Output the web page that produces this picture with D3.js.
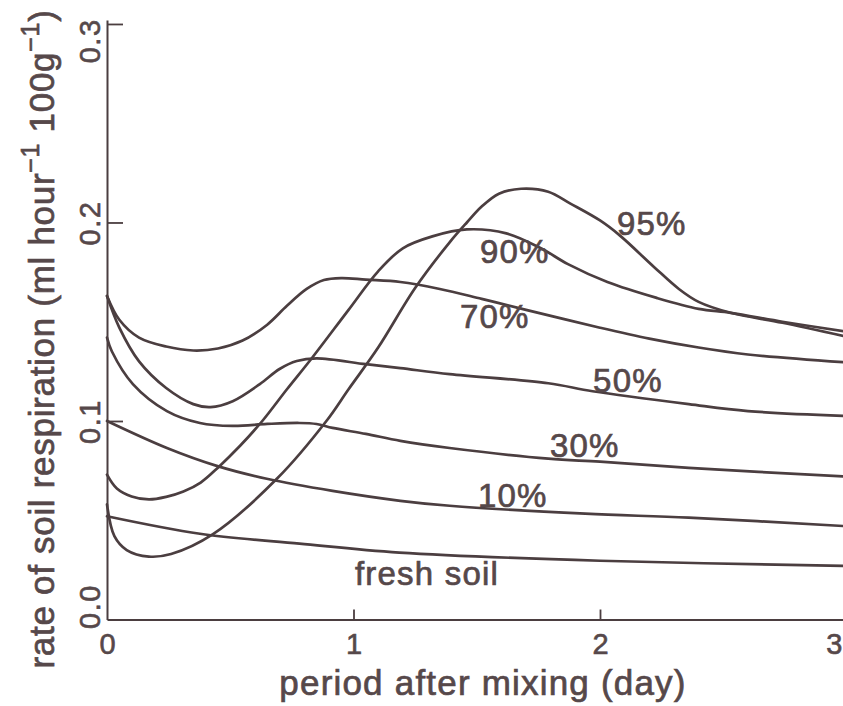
<!DOCTYPE html>
<html><head><meta charset="utf-8">
<script src="https://cdn.jsdelivr.net/npm/d3@7"></script>
<style>html,body{margin:0;padding:0;background:#fff;overflow:hidden}</style>
</head><body><svg id="c" width="843" height="706"></svg>
<script>
// ---- data ----
const seriesNames = ["95%", "90%", "70%", "50%", "30%", "10%", "fresh soil"];

const days95 = [0, 0.03, 0.08, 0.17, 0.26, 0.43, 0.69, 0.89, 0.98, 1.10, 1.25, 1.39, 1.46, 1.52, 1.59, 1.68, 1.79, 1.88, 2.0, 2.08, 2.22, 2.32, 2.4, 2.53, 2.74, 3.0];
const rate95 = [0.058, 0.042, 0.035, 0.0317, 0.033, 0.043, 0.071, 0.100, 0.116, 0.137, 0.167, 0.190, 0.200, 0.208, 0.2145, 0.217, 0.2155, 0.2095, 0.201, 0.1935, 0.1775, 0.1665, 0.160, 0.1545, 0.1495, 0.1425];

const days90 = [0, 0.04, 0.10, 0.17, 0.24, 0.31, 0.38, 0.45, 0.54, 0.63, 0.73, 0.83, 0.98, 1.10, 1.20, 1.32, 1.46, 1.62, 1.76, 1.87, 2.03, 2.23, 2.4, 2.53, 2.74, 3.0];
const rate90 = [0.073, 0.066, 0.062, 0.0605, 0.0618, 0.0645, 0.069, 0.0765, 0.0875, 0.100, 0.116, 0.1315, 0.156, 0.1754, 0.187, 0.193, 0.1965, 0.1945, 0.187, 0.179, 0.170, 0.162, 0.1565, 0.1545, 0.150, 0.145];

const days70 = [0, 0.05, 0.13, 0.24, 0.35, 0.45, 0.55, 0.65, 0.73, 0.81, 0.88, 0.95, 1.05, 1.19, 1.35, 1.52, 1.7, 2.0, 2.2, 2.4, 2.6, 3.0];
const rate70 = [0.163, 0.151, 0.142, 0.1375, 0.1355, 0.1365, 0.1405, 0.1485, 0.158, 0.1665, 0.171, 0.172, 0.1712, 0.170, 0.1665, 0.1615, 0.156, 0.147, 0.1415, 0.137, 0.1335, 0.1295];

const days50 = [0, 0.05, 0.13, 0.24, 0.35, 0.42, 0.51, 0.62, 0.70, 0.77, 0.85, 1.05, 1.19, 1.39, 1.79, 1.97, 2.36, 2.6, 3.0];
const rate50 = [0.163, 0.147, 0.130, 0.1166, 0.1085, 0.107, 0.110, 0.1186, 0.1262, 0.1302, 0.1315, 0.1286, 0.1266, 0.1236, 0.119, 0.115, 0.1085, 0.105, 0.1025];

const days30 = [0, 0.02, 0.105, 0.243, 0.377, 0.51, 0.65, 0.78, 0.85, 0.915, 1.05, 1.19, 1.39, 1.79, 2.0, 2.36, 3.0];
const rate30 = [0.142, 0.135, 0.1186, 0.105, 0.099, 0.0975, 0.0985, 0.099, 0.0985, 0.0965, 0.0935, 0.090, 0.0864, 0.081, 0.0795, 0.0764, 0.072];

const days10 = [0, 0.243, 0.445, 0.648, 0.915, 1.19, 1.39, 1.94, 2.36, 3.0];
const rate10 = [0.100, 0.0864, 0.0774, 0.0709, 0.0648, 0.0598, 0.0573, 0.0533, 0.0513, 0.047];

const daysFresh = [0, 0.377, 0.781, 1.186, 2.0, 3.0];
const rateFresh = [0.052, 0.0432, 0.0382, 0.0337, 0.0296, 0.027];

const xTickValues = [0, 1, 2, 3];
const yTickValues = [0, 0.1, 0.2, 0.3];
const xTitle = "period after mixing (day)";
const yTitleMain = "rate of soil respiration (ml hour";
const yTitleMid = " 100g";

// label anchors (in data units: day, rate)
const labelDay  = [2.069, 1.513, 1.432, 1.972, 1.797, 1.505, 1.006];
const labelRate = [0.1937, 0.1796, 0.1469, 0.1146, 0.0819, 0.0567, 0.0174];

// ---- chart ----
const ink = "#4b3e40";
const textInk = "#56484a";
const font = "'Liberation Sans', Arial, Helvetica, sans-serif";

const svg = d3.select("#c");
const x = d3.scaleLinear().domain([0, 3]).range([107, 846.5]);
const y = d3.scaleLinear().domain([0, 0.302]).range([619.5, 20]);

const allDays = [days95, days90, days70, days50, days30, days10, daysFresh];
const allRates = [rate95, rate90, rate70, rate50, rate30, rate10, rateFresh];
const series = seriesNames.map((name, i) => ({
  name,
  points: allDays[i].map((d, j) => [d, allRates[i][j]])
}));

const line = d3.line().x(d => x(d[0])).y(d => y(d[1])).curve(d3.curveCatmullRom.alpha(0.5));

svg.append("g").selectAll("path").data(series).join("path")
  .attr("d", d => line(d.points))
  .attr("fill", "none")
  .attr("stroke", ink)
  .attr("stroke-width", 2.7)
  .attr("stroke-linejoin", "round")
  .attr("stroke-linecap", "round");

// axes
const xAxis = d3.axisBottom(x).tickValues(xTickValues).tickFormat(d3.format("d"))
  .tickSizeInner(-10).tickSizeOuter(0).tickPadding(14);
const gx = svg.append("g").attr("transform", `translate(0,${y(0)})`).call(xAxis);
gx.select(".domain").attr("stroke", ink).attr("stroke-width", 2);
gx.selectAll(".tick line").attr("stroke", ink).attr("stroke-width", 1.8)
  .attr("opacity", d => d === 0 ? 0 : 1);
gx.selectAll(".tick text")
  .attr("font-family", font).attr("font-size", 29).attr("fill", textInk)
  .attr("stroke", textInk).attr("stroke-width", 0.6)
  .attr("text-anchor", d => d === 3 ? "end" : "middle")
  .attr("x", d => d === 3 ? 843 - x(3) - 1 : 0);

const yAxis = d3.axisLeft(y).tickValues(yTickValues).tickFormat(d3.format(".1f"))
  .tickSizeInner(-16).tickSizeOuter(0).tickPadding(7);
const gy = svg.append("g").attr("transform", `translate(${x(0)},0)`).call(yAxis);
gy.select(".domain").attr("stroke", ink).attr("stroke-width", 2);
gy.selectAll(".tick line").attr("stroke", ink).attr("stroke-width", 1.8)
  .attr("opacity", d => d === 0 ? 0 : 1);
gy.selectAll(".tick text")
  .attr("x", null).attr("dy", null)
  .attr("font-family", font).attr("font-size", 29).attr("fill", textInk)
  .attr("stroke", textInk).attr("stroke-width", 0.6)
  .attr("letter-spacing", 1.5)
  .attr("text-anchor", d => d === 0 ? "start" : (d === 0.3 ? "end" : "middle"))
  .attr("transform", d => {
    const off = d === 0 ? 9 : (d === 0.3 ? -6 : 0);
    return `translate(-7,${off}) rotate(-90)`;
  });

// axis titles
svg.append("text")
  .attr("x", 483).attr("y", 695)
  .attr("text-anchor", "middle")
  .attr("font-family", font).attr("font-size", 35).attr("fill", textInk)
  .attr("stroke", textInk).attr("stroke-width", 0.7)
  .attr("letter-spacing", 1.2)
  .text(xTitle);

const yt = svg.append("text")
  .attr("transform", "translate(54,339) rotate(-90)")
  .attr("text-anchor", "middle")
  .attr("font-family", font).attr("font-size", 35).attr("fill", textInk)
  .attr("stroke", textInk).attr("stroke-width", 0.7)
  .attr("letter-spacing", 0.7);
yt.append("tspan").text(yTitleMain);
yt.append("tspan").attr("dy", -15).attr("font-size", 25).text("−1");
yt.append("tspan").attr("dy", 15).text(yTitleMid);
yt.append("tspan").attr("dy", -15).attr("font-size", 25).text("−1");
yt.append("tspan").attr("dy", 15).text(")");

// curve labels
svg.append("g").selectAll("text").data(series).join("text")
  .attr("x", (d, i) => x(labelDay[i]))
  .attr("y", (d, i) => y(labelRate[i]))
  .attr("font-family", font).attr("font-size", 33).attr("fill", textInk)
  .attr("stroke", textInk).attr("stroke-width", 0.7)
  .attr("letter-spacing", 1.2)
  .text(d => d.name);
</script>
</body></html>
